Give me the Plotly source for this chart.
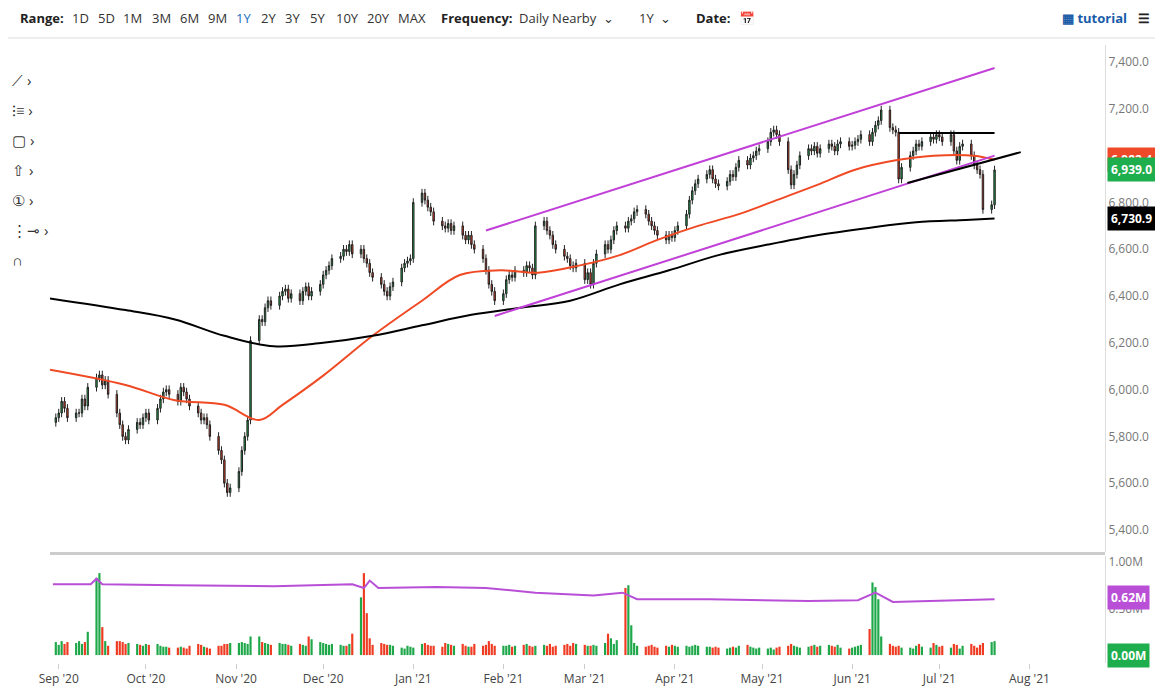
import plotly.graph_objects as go
import pandas as pd

closes_sep = [5880,5900,5950,5920,5880,5900,5900,5960,5930,6010,6050,6063,6020,6040,5980,5900,5850,5800,5785,5830,5860,5850,5880]
closes_oct = [5900,5870,5920,5960,5990,6000,5980,5950,6010,5990,5960,5930,5900,5870,5880,5850,5800,5740,5700,5600,5560,5580]
closes_nov = [5650,5740,5800,5870,6210,6300,6290,6350,6380,6360,6400,6420,6430,6390,6410,6380,6420,6440,6400,6420,6450]
closes_dec = [6490,6510,6530,6560,6570,6600,6590,6620,6580,6600,6560,6540,6500,6480,6450,6420,6400,6440,6460,6520,6540,6550,6560]
closes_jan = [6800,6840,6810,6780,6760,6720,6700,6690,6710,6680,6700,6660,6640,6660,6620,6600,6560,6510,6450,6420,6380]
closes_feb = [6410,6470,6490,6480,6510,6500,6530,6520,6490,6700,6720,6680,6660,6620,6600,6570,6560,6530,6520,6540]
closes_mar = [6470,6500,6450,6540,6580,6620,6600,6640,6680,6700,6690,6720,6730,6760,6770,6750,6720,6700,6680,6660,6640,6660,6650]
closes_apr = [6680,6700,6750,6810,6850,6880,6900,6920,6940,6900,6880,6870,6890,6920,6910,6950,6980,6960,6990,7000,7020,7030]
closes_may = [7060,7100,7110,7090,7060,6940,6875,6920,6960,7000,7030,7020,7040,7010,7030,7050,7040,7020,7050,7060,7040]
closes_jun = [7045,7060,7070,7090,7060,7100,7130,7150,7195,7120,7110,7100,6900,6950,7000,7020,7050,7040,7060,7080,7070,7090]
closes_jul = [7080,7060,7090,7020,6980,7040,7050,7000,6960,6940,6920,6770,6790,6939]

vol_sep = [0.14,0.11,0.15,0.12,0.14,0.13,0.15,0.12,0.14,0.25,0.83,0.88,0.30,0.15,0.10,0.15,0.15,0.14,0.12,0.13,0.12,0.11,0.10]
vol_oct = [0.12,0.11,0.12,0.10,0.09,0.09,0.08,0.08,0.09,0.08,0.07,0.10,0.12,0.11,0.09,0.08,0.07,0.10,0.10,0.12,0.12,0.13]
vol_nov = [0.13,0.14,0.13,0.12,0.20,0.20,0.14,0.13,0.12,0.11,0.13,0.12,0.12,0.11,0.10,0.12,0.11,0.10,0.20,0.17,0.14]
vol_dec = [0.13,0.12,0.11,0.12,0.11,0.10,0.10,0.12,0.23,0.62,0.88,0.45,0.18,0.11,0.13,0.12,0.11,0.11,0.10,0.08,0.07,0.10,0.09]
vol_jan = [0.08,0.12,0.13,0.11,0.10,0.10,0.09,0.13,0.12,0.11,0.10,0.12,0.10,0.09,0.09,0.12,0.10,0.11,0.15,0.12,0.10]
vol_feb = [0.10,0.10,0.11,0.09,0.10,0.11,0.12,0.10,0.09,0.10,0.11,0.10,0.12,0.09,0.10,0.11,0.12,0.10,0.13,0.12]
vol_mar = [0.11,0.10,0.10,0.11,0.10,0.13,0.23,0.18,0.12,0.16,0.72,0.75,0.32,0.13,0.10,0.09,0.10,0.11,0.09,0.08,0.10,0.09,0.11]
vol_apr = [0.10,0.09,0.10,0.09,0.10,0.11,0.10,0.09,0.09,0.08,0.09,0.08,0.07,0.08,0.09,0.08,0.10,0.11,0.09,0.08,0.07,0.08]
vol_may = [0.07,0.08,0.06,0.08,0.09,0.10,0.12,0.10,0.09,0.08,0.09,0.10,0.11,0.09,0.10,0.11,0.10,0.09,0.11,0.08,0.07]
vol_jun = [0.08,0.09,0.10,0.11,0.28,0.78,0.73,0.60,0.20,0.12,0.10,0.09,0.10,0.08,0.08,0.07,0.10,0.12,0.09,0.08,0.13,0.11]
vol_jul = [0.09,0.10,0.08,0.12,0.11,0.07,0.10,0.12,0.10,0.08,0.11,0.13,0.14,0.15]

ma50_dates = ["2020-08-29","2020-09-24","2020-10-11","2020-10-28","2020-11-09","2020-11-17","2020-12-01","2020-12-18","2021-01-04","2021-01-17","2021-01-31","2021-02-13","2021-02-27","2021-03-13","2021-03-26","2021-04-09","2021-04-23","2021-05-06","2021-05-20","2021-06-02","2021-06-16","2021-06-29","2021-07-13","2021-07-20"]
ma50_vals = [6085,6020,5955,5935,5870,5935,6060,6230,6380,6490,6510,6500,6530,6575,6640,6700,6750,6810,6875,6940,6980,7000,7000,6982.4]
ma200_dates = ["2020-08-29","2020-09-24","2020-10-11","2020-10-28","2020-11-14","2020-12-01","2020-12-18","2021-01-04","2021-01-21","2021-02-07","2021-02-24","2021-03-13","2021-03-30","2021-04-16","2021-05-03","2021-05-20","2021-06-06","2021-06-23","2021-07-10","2021-07-20"]
ma200_vals = [6390,6340,6300,6230,6185,6200,6230,6275,6320,6350,6380,6450,6510,6575,6620,6660,6690,6715,6725,6730.9]
vavg_dates = ["2020-08-30","2020-09-12","2020-09-14","2020-09-16","2020-10-11","2020-11-14","2020-12-11","2020-12-15","2020-12-17","2020-12-20","2021-01-09","2021-01-26","2021-02-12","2021-03-04","2021-03-14","2021-03-19","2021-04-13","2021-05-17","2021-06-03","2021-06-09","2021-06-15","2021-06-25","2021-07-20"]
vavg_vals = [0.76,0.76,0.82,0.76,0.75,0.74,0.76,0.72,0.80,0.72,0.73,0.72,0.67,0.64,0.67,0.60,0.60,0.58,0.59,0.67,0.57,0.58,0.60]

channel_upper_dates = ["2021-01-26","2021-07-20"]
channel_upper_vals = [6680,7375]
channel_lower_dates = ["2021-01-29","2021-07-20"]
channel_lower_vals = [6315,7000]
range_top_dates = ["2021-06-17","2021-07-20"]
range_top_vals = [7097,7097]
range_bottom_dates = ["2021-06-20","2021-07-29"]
range_bottom_vals = [6883,7015]

closes = closes_sep+closes_oct+closes_nov+closes_dec+closes_jan+closes_feb+closes_mar+closes_apr+closes_may+closes_jun+closes_jul
vols = vol_sep+vol_oct+vol_nov+vol_dec+vol_jan+vol_feb+vol_mar+vol_apr+vol_may+vol_jun+vol_jul
dates = pd.bdate_range("2020-08-31", "2021-07-20")[:len(closes)]
opens = [closes[0]-20] + closes[:-1]
highs = [max(o, c)+18 for o, c in zip(opens, closes)]
lows = [min(o, c)-18 for o, c in zip(opens, closes)]
GREEN, RED = "#1ea84a", "#ee3b22"
vcol = [GREEN if c >= o else RED for o, c in zip(opens, closes)]

OFF = 8  # page body margin
W, H = 1163 - OFF, 696 - OFF
L, R, T, B = 50 - OFF, 58, 45 - OFF, 33
PW, PH = W - L - R, H - T - B
def px(x): return (x - OFF - L) / PW
def py(y): return (H - B - (y - OFF)) / PH

fig = go.Figure()
fig.add_trace(go.Candlestick(x=dates, open=opens, high=highs, low=lows, close=closes,
    increasing=dict(line=dict(color="#222", width=1), fillcolor=GREEN),
    decreasing=dict(line=dict(color="#222", width=1), fillcolor=RED), whiskerwidth=0, yaxis="y"))
fig.add_trace(go.Scatter(x=ma50_dates, y=ma50_vals, mode="lines", line=dict(color="#f04a25", width=2), line_shape="spline"))
fig.add_trace(go.Scatter(x=ma200_dates, y=ma200_vals, mode="lines", line=dict(color="#000", width=2), line_shape="spline"))
for d, v, c in [(channel_upper_dates, channel_upper_vals, "#c040d8"), (channel_lower_dates, channel_lower_vals, "#c040d8"),
                (range_top_dates, range_top_vals, "#000"), (range_bottom_dates, range_bottom_vals, "#000")]:
    fig.add_trace(go.Scatter(x=d, y=v, mode="lines", line=dict(color=c, width=2)))
fig.add_trace(go.Bar(x=dates, y=vols, marker=dict(color=vcol, line_width=0), yaxis="y2", xaxis="x"))
fig.add_trace(go.Scatter(x=vavg_dates, y=vavg_vals, mode="lines", line=dict(color="#b84fd6", width=2), yaxis="y2"))

fig.update_layout(
    width=W, height=H, showlegend=False, plot_bgcolor="white", paper_bgcolor="white",
    margin=dict(l=L, r=R, t=T, b=B, autoexpand=False), bargap=0.25,
    font=dict(family="Open Sans", size=12, color="#444"),
    xaxis=dict(range=["2020-08-29", "2021-08-27"], rangeslider=dict(visible=False), showgrid=False,
               tickformat="%b '%y", dtick="M1", tick0="2020-09-01", ticks="outside", ticklen=5, tickcolor="#ccc",
               anchor="y2", showline=False),
    yaxis=dict(domain=[py(552), 1], range=[5306, 7473], side="right", showgrid=False, tickformat=",.1f",
               dtick=200, showline=True, linecolor="#ddd", ticks="", tickfont=dict(color="#777")),
    yaxis2=dict(domain=[0, py(556)], range=[-0.085, 1.064], side="right", showgrid=False,
                tickvals=[0, 0.5, 1.0], ticktext=["0.00M", "0.50M", "1.00M"], showline=True, linecolor="#ddd",
                tickfont=dict(color="#777")),
)
fig.add_shape(type="line", xref="paper", yref="paper", x0=0, x1=1, y0=py(553.5), y1=py(553.5), line=dict(color="#ccc", width=3))
fig.add_shape(type="line", xref="paper", yref="paper", x0=px(8), x1=px(1163), y0=py(38), y1=py(38), line=dict(color="#ddd", width=1))
fig.add_shape(type="line", xref="paper", yref="paper", x0=px(8), x1=px(1163), y0=py(3), y1=py(3), line=dict(color="#ddd", width=1))
items = [("Range:", 18, True, "#222"), ("1D", 70, False, "#333"), ("5D", 96, False, "#333"), ("1M", 121, False, "#333"),
         ("3M", 150, False, "#333"), ("6M", 178, False, "#333"), ("9M", 206, False, "#333"), ("1Y", 234, False, "#1a6fc0"),
         ("2Y", 259, False, "#333"), ("3Y", 283, False, "#333"), ("5Y", 308, False, "#333"), ("10Y", 334, False, "#333"),
         ("20Y", 365, False, "#333"), ("MAX", 396, False, "#333"), ("Frequency:", 439, True, "#222"),
         ("Daily Nearby  ⌄", 517, False, "#333"), ("1Y  ⌄", 637, False, "#333"), ("Date:", 694, True, "#222"),
         ("📅", 737, False, "#1a6fc0"), ("▦ tutorial", 1060, True, "#1a5ca8"), ("☰", 1136, True, "#222")]
for t, x, b, c in items:
    fig.add_annotation(text=f"<b>{t}</b>" if b else t, x=px(x), y=py(18), xref="paper", yref="paper", showarrow=False,
                       xanchor="left", yanchor="middle", font=dict(size=13, color=c, family="Open Sans"))
for txt, yy in [("⟋ ›", 68), ("⁝≡ ›", 98), ("▢ ›", 128), ("⇧ ›", 158), ("① ›", 188), ("⋮⊸ ›", 218), ("∩", 248)]:
    fig.add_annotation(text=txt, x=px(10), y=py(yy), xref="paper", yref="paper",
                       showarrow=False, xanchor="left", font=dict(size=15, color="#333"))
for val, col, yref, txt in [(6982.4, "#ee4a2a", "y", "6,982.4"), (6939.0, "#1fae4e", "y", "6,939.0"),
                            (6730.9, "#000", "y", "6,730.9"), (0.62, "#b84fd6", "y2", "0.62M"), (0.0, "#1fae4e", "y2", "0.00M")]:
    fig.add_annotation(text=f"<b>{txt}</b>", x=1.002, y=val, xref="paper", yref=yref, showarrow=False,
                       xanchor="left", bgcolor=col, font=dict(color="white", size=12), borderpad=3)
fig.write_html("out.html")
